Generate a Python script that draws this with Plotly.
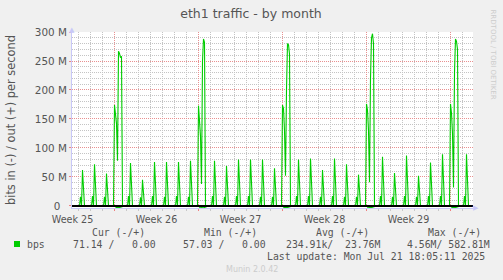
import plotly.graph_objects as go
import pandas as pd

# ---------------- data ----------------
day_start = "2025-06-20"          # first full day in view
n_days = 33
samples_per_day = 12               # 2-hour consolidation

# daily pattern, out (+) traffic in Mbit/s; None = weekly big transfer day
daily_bump = [16, 17, 16, None, 17, 15, 17, 16, 17, 16, None, 17, 16, 17, 17, 16, 16,
              None, 17, 17, 16, 17, 16, 16, None, 17, 16, 17, 16, 17, 17, None, 17]
daily_peak = [62, 72, 56, None, 74, 45, 76, 76, 76, 78, None, 78, 69, 80, 80, 80, 65,
              None, 80, 82, 62, 82, 72, 54, None, 85, 57, 87, 52, 75, 89, None, 89]
daily_tail = [20, 24, 20, None, 24, 18, 25, 25, 25, 26, None, 26, 23, 26, 26, 26, 22,
              None, 26, 27, 21, 27, 24, 19, None, 28, 20, 28, 18, 25, 29, None, 29]

# weekly big transfers (Mondays), Mbit/s at 0h,2h,...,16h
big_h0 = [174, 173, 174, 176, 176]
big_h2 = [162, 150, 168, 165, 160]
big_h4 = [142, 120, 130, 130, 125]
big_h6 = [78, 38, 52, 41, 32]
big_h8 = [267, 250, 200, 220, 230]
big_h10 = [263, 288, 280, 290, 288]
big_h12 = [256, 282, 278, 297, 284]
big_h14 = [258, 0, 262, 280, 270]
big_h16 = [0, 0, 0, 0, 0]

# in (-) traffic, Mbit/s
in_daily = 0.3
in_big = [2.8, 3.5, 3.0, 3.2, 3.0]

y_tickvals = [0, 50e6, 100e6, 150e6, 200e6, 250e6, 300e6]
y_ticktext = ["0\u2007", "50 M", "100 M", "150 M", "200 M", "250 M", "300 M"]

legend_head = ["Cur (-/+)", "Min (-/+)", "Avg (-/+)", "Max (-/+)"]
legend_vals = ["71.14 /   0.00", "57.03 /   0.00", "234.91k/  23.76M", "4.56M/ 582.81M"]
last_update = "Last update: Mon Jul 21 18:05:11 2025"

# ---------------- assemble series ----------------
times = pd.date_range(pd.Timestamp(day_start), periods=n_days * samples_per_day, freq="2h")
out_vals, in_vals = [], []
bi = 0
for k in range(n_days):
    if daily_peak[k] is None:
        day = [big_h0[bi], big_h2[bi], big_h4[bi], big_h6[bi], big_h8[bi], big_h10[bi],
               big_h12[bi], big_h14[bi], big_h16[bi], 0, 0, 0]
        din = [0, -in_big[bi] * 0.6, -in_big[bi], -in_big[bi] * 0.8, -in_big[bi],
               -in_big[bi] * 0.9, -in_big[bi] * 0.7, -in_big[bi] * 0.5, 0, 0, 0, 0]
        bi += 1
    else:
        day = [0, 0, daily_bump[k], 0, daily_peak[k], daily_tail[k], 0, 0, 0, 0, 0, 0]
        din = [0, 0, 0, 0, -in_daily, 0, 0, 0, 0, 0, 0, 0]
    out_vals += [v * 1e6 for v in day]
    in_vals += [v * 1e6 for v in din]

# ---------------- figure ----------------
W, H = 503, 280
L, R, T, B = 72, 30, 32, 72
PW, PH = W - L - R, H - T - B


def px(xp):
    return (xp - L) / PW


def py(yp):
    return (T + PH - yp) / PH


green = "#00cc00"
txt = "#555555"

fig = go.Figure()
fig.add_trace(go.Scatter(x=times, y=in_vals, mode="lines", line=dict(color=green, width=1.1),
                         hoverinfo="skip"))
fig.add_trace(go.Scatter(x=times, y=out_vals, mode="lines", line=dict(color=green, width=1.1),
                         name="bps"))

minor_grid = "#c4c4c4"
major_grid = "#e89090"
dots = "1px,1px"

fig.update_layout(
    width=W, height=H,
    margin=dict(l=L, r=R, t=T, b=B, pad=0),
    paper_bgcolor="#f0f0f0", plot_bgcolor="#ffffff",
    showlegend=False,
    title=dict(text="eth1 traffic - by month", x=251 / W, xanchor="center",
               y=1 - 13.5 / H, yanchor="middle",
               font=dict(family="DejaVu Sans", size=12.5, color=txt)),
    xaxis=dict(
        type="date", range=["2025-06-19 11:00", "2025-07-22 21:00"],
        tick0="2025-06-16", dtick=7 * 86400000, ticklabelmode="period",
        tickformat="Week %V",
        showgrid=True, gridcolor=major_grid, griddash=dots, gridwidth=1,
        ticks="outside", ticklen=2, tickcolor="#f08080",
        tickfont=dict(family="DejaVu Sans", size=9.6, color=txt),
        showline=True, linecolor="#c8c8f8", linewidth=1, zeroline=False,
        minor=dict(tick0="2025-06-20", dtick=86400000, showgrid=True,
                   gridcolor=minor_grid, griddash=dots, ticks="outside",
                   ticklen=2, tickcolor="#c8c8c8"),
    ),
    yaxis=dict(
        range=[-3.5e6, 300e6], tickvals=y_tickvals, ticktext=y_ticktext,
        showgrid=True, gridcolor=major_grid, griddash=dots, gridwidth=1,
        ticks="outside", ticklen=2, tickcolor="#f08080",
        tickfont=dict(family="DejaVu Sans", size=10.4, color=txt),
        showline=True, linecolor="#c8c8f8", linewidth=1, zeroline=False,
        minor=dict(dtick=10e6, showgrid=True, gridcolor=minor_grid, griddash=dots),
    ),
)

# zero rule on top of the data
fig.add_shape(type="line", xref="paper", x0=0, x1=1, yref="y", y0=0, y1=0,
              line=dict(color="#000000", width=2), layer="above")

# legend colour box
fig.add_shape(type="rect", xref="paper", yref="paper", x0=px(14), x1=px(20),
              y0=py(247), y1=py(241), fillcolor=green, line=dict(width=0))

ann = []


def note(text, xp, yp, size, color=txt, family="DejaVu Sans Mono", xanchor="left", angle=0):
    ann.append(dict(text=text.replace(" ", "\u00a0"), x=px(xp), y=py(yp), xref="paper",
                    yref="paper", xanchor=xanchor, yanchor="middle", showarrow=False,
                    borderpad=0, borderwidth=0, textangle=angle,
                    font=dict(family=family, size=size, color=color)))


note("bits in (-) / out (+) per second", 11, 120, 11.4, family="DejaVu Sans",
     xanchor="center", angle=-90)
head_x = [91.7, 204, 316, 428.3]
for t, xp in zip(legend_head, head_x):
    note(t, xp, 232.3, 9.8)
note("bps", 26.7, 244, 9.8)
vals_x = [72.7, 182.7, 286, 406.7]
for t, xp in zip(legend_vals, vals_x):
    note(t, xp, 244, 9.8)
note(last_update, 267.3, 256, 9.8)
note("Munin 2.0.42", 225.7, 269.5, 8, color="#cccccc", family="DejaVu Sans")
note("RRDTOOL / TOBI OETIKER", 492.5, 54, 7, color="#cccccc", family="DejaVu Sans",
     xanchor="center", angle=90)
note("\u25b2", 72, 29.5, 7, color="#c8c8f8", family="DejaVu Sans", xanchor="center")
note("\u25b6", 476, 208, 7, color="#c8c8f8", family="DejaVu Sans", xanchor="center")

fig.update_layout(annotations=ann)
fig.write_html("out.html")
